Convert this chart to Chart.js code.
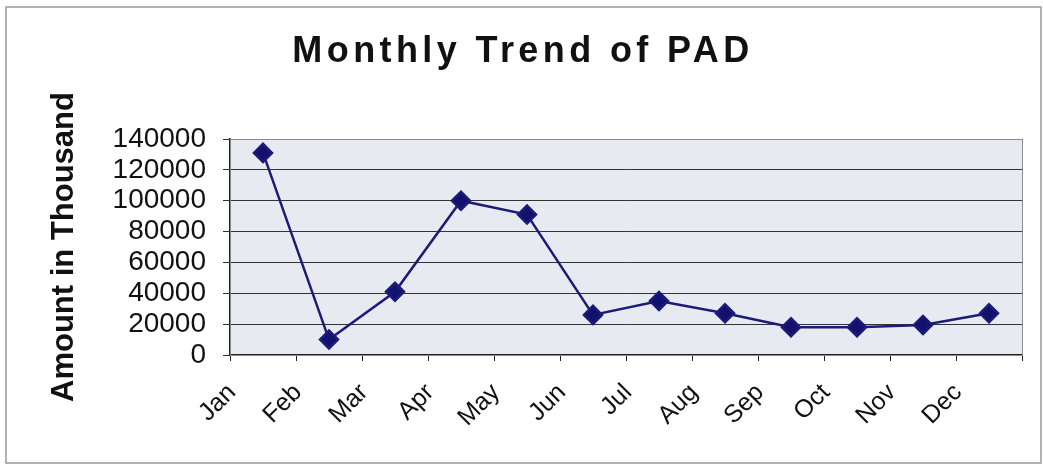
<!DOCTYPE html>
<html>
<head>
<meta charset="utf-8">
<script src="https://cdn.jsdelivr.net/npm/chart.js@4/dist/chart.umd.min.js"></script>
<style>
  html, body { margin: 0; padding: 0; background: #fff; }
  #wrap { width: 1043px; height: 465px; position: relative; }
</style>
</head>
<body>
<div id="wrap"><canvas id="chart"></canvas></div>
<script>
// chart data
const months = ["Jan", "Feb", "Mar", "Apr", "May", "Jun", "Jul", "Aug", "Sep", "Oct", "Nov", "Dec"];
const padValues = [131000, 10000, 41000, 100000, 91000, 26000, 35000, 27000, 18000, 18000, 19500, 27000];
const yTicks = [0, 20000, 40000, 60000, 80000, 100000, 120000, 140000];
const chartTitle = "Monthly Trend of PAD";
const yTitle = "Amount in Thousand";

// plot background, outer frame and the spaced-out title
const decorPlugin = {
  id: "decor",
  beforeDraw(chart) {
    const { ctx, chartArea: a } = chart;
    ctx.save();
    ctx.fillStyle = "#fff";
    ctx.fillRect(0, 0, chart.width, chart.height);
    ctx.fillStyle = "#e8eaf1";
    ctx.fillRect(a.left, a.top, a.right - a.left, a.bottom - a.top);
    ctx.restore();
  },
  afterDraw(chart) {
    const { ctx, chartArea: a } = chart;
    ctx.save();
    ctx.strokeStyle = "#8a8a8a";
    ctx.lineWidth = 1;
    ctx.strokeRect(a.left + 0.5, a.top + 0.5, a.right - a.left, a.bottom - a.top);
    ctx.strokeStyle = "#9a9a9a";
    ctx.lineWidth = 1.5;
    ctx.strokeRect(6, 7, chart.width - 8, chart.height - 9);
    ctx.fillStyle = "#111";
    ctx.font = "bold 36px 'Liberation Sans', Arial, sans-serif";
    ctx.letterSpacing = "4.4px";
    ctx.textAlign = "center";
    ctx.textBaseline = "alphabetic";
    ctx.fillText(chartTitle, 523, 62);
    ctx.restore();
  }
};

new Chart(document.getElementById("chart"), {
  type: "line",
  data: {
    labels: months,
    datasets: [{
      label: "PAD",
      data: padValues,
      borderColor: "#1c1c78",
      borderWidth: 2.5,
      backgroundColor: "#12126e",
      pointStyle: "rectRot",
      pointRadius: 9,
      pointHoverRadius: 9,
      tension: 0
    }]
  },
  options: {
    responsive: true,
    maintainAspectRatio: false,
    animation: false,
    layout: { padding: { left: 0, right: 21, top: 139, bottom: 0 } },
    plugins: {
      legend: { display: false },
      tooltip: { enabled: false }
    },
    scales: {
      x: {
        offset: true,
        grid: { offset: true, drawOnChartArea: false, tickLength: 6, color: "#222" },
        border: { color: "#222", width: 1.5 },
        ticks: {
          color: "#111",
          font: { size: 25, family: "'Liberation Sans', Arial, sans-serif" },
          autoSkip: false,
          minRotation: 45,
          maxRotation: 45,
          padding: 17,
          labelOffset: -31
        },
        afterFit(scale) { scale.height = 110; }
      },
      y: {
        min: 0,
        max: 140000,
        afterBuildTicks(scale) { scale.ticks = yTicks.map(v => ({ value: v })); },
        grid: { color: "#333", tickLength: 7 },
        border: { color: "#222", width: 1.5 },
        ticks: {
          color: "#111",
          padding: 17,
          autoSkip: false,
          font: { size: 28, family: "'Liberation Sans', Arial, sans-serif" },
          callback: v => String(v)
        },
        title: {
          display: true,
          text: yTitle,
          color: "#111",
          font: { size: 31, weight: "bold", family: "'Liberation Sans', Arial, sans-serif" },
          padding: { top: 46, bottom: 0 }
        },
        afterFit(scale) { scale.width = 230; }
      }
    }
  },
  plugins: [decorPlugin]
});
</script>
</body>
</html>
